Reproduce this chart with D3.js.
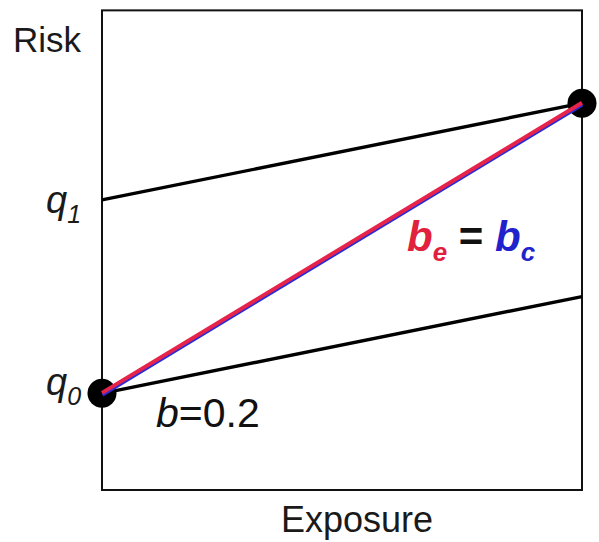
<!DOCTYPE html>
<html>
<head>
<meta charset="utf-8">
<script src="https://cdn.jsdelivr.net/npm/d3@7"></script>
<style>
  body { margin: 0; background: #fff; }
  text { font-family: "Liberation Sans", Arial, sans-serif; }
</style>
</head>
<body>
<svg id="chart" width="599" height="542"></svg>
<script>
// ─── Data ─────────────────────────────────────────────────────────────────────
const q0 = 0.2;          // baseline risk, unexposed
const q1 = 0.6;          // intercept of upper line
const slopeB = 0.2;      // b = 0.2
const slopeBc = 0.6;     // b_e = b_c
const exposureRange = [0, 1];
const frameTop = 0.992;
const points = [[0, q0], [1, q0 + slopeBc]];

const svg = d3.select("#chart");
const x = d3.scaleLinear().domain([0, 1]).range([102, 582]);
const y = d3.scaleLinear().domain([0, 1]).range([490, 6.5]);

const line = d3.line().x(d => x(d[0])).y(d => y(d[1]));

// frame
svg.append("rect")
    .attr("x", x(0)).attr("y", y(frameTop))
    .attr("width", x(1) - x(0)).attr("height", y(0) - y(frameTop))
    .attr("fill", "none").attr("stroke", "#111").attr("stroke-width", 2);

// black lines with slope b
[q0, q1].forEach(q => {
    svg.append("path")
        .attr("d", line(exposureRange.map(e => [e, q + slopeB * e])))
        .attr("fill", "none").attr("stroke", "#000").attr("stroke-width", 3.4);
});

// dots
points.forEach(p => {
    svg.append("circle")
        .attr("cx", x(p[0])).attr("cy", y(p[1]))
        .attr("r", 14.5).attr("fill", "#000");
});

// b_e = b_c line: blue underneath, red on top
const diag = exposureRange.map(e => [e, q0 + slopeBc * e]);
svg.append("path")
    .attr("d", line(diag)).attr("transform", "translate(0.5,1.8)")
    .attr("fill", "none").attr("stroke", "#2b2bd6").attr("stroke-width", 3);
svg.append("path")
    .attr("d", line(diag)).attr("transform", "translate(0,-0.4)")
    .attr("fill", "none").attr("stroke", "#e6234a").attr("stroke-width", 4);

// labels
svg.append("text").attr("x", 13).attr("y", 52)
    .attr("font-size", 35).attr("fill", "#1a1a1a").text("Risk");

svg.append("text").attr("x", 281).attr("y", 532)
    .attr("font-size", 36).attr("fill", "#1a1a1a").text("Exposure");

function qLabel(xp, yp, sub) {
    const t = svg.append("text").attr("x", xp).attr("y", yp)
        .attr("font-size", 38).attr("font-style", "italic").attr("fill", "#1a1a1a");
    t.append("tspan").text("q");
    t.append("tspan").attr("dy", 10).attr("font-size", 25).text(sub);
}
qLabel(46, 213, "1");
qLabel(46, 395, "0");

const bt = svg.append("text").attr("x", 156).attr("y", 427)
    .attr("font-size", 41).attr("fill", "#111");
bt.append("tspan").attr("font-style", "italic").text("b");
bt.append("tspan").text("=0.2");

const be = svg.append("text").attr("x", 407).attr("y", 251)
    .attr("font-size", 42).attr("font-weight", "bold").attr("font-style", "italic");
be.append("tspan").attr("fill", "#e0203c").text("b");
be.append("tspan").attr("fill", "#e0203c").attr("dy", 10).attr("font-size", 26).text("e");
be.append("tspan").attr("fill", "#111").attr("dy", -10).attr("font-style", "normal").text(" = ");
be.append("tspan").attr("fill", "#2222cc").text("b");
be.append("tspan").attr("fill", "#2222cc").attr("dy", 10).attr("font-size", 26).text("c");
</script>
</body>
</html>
